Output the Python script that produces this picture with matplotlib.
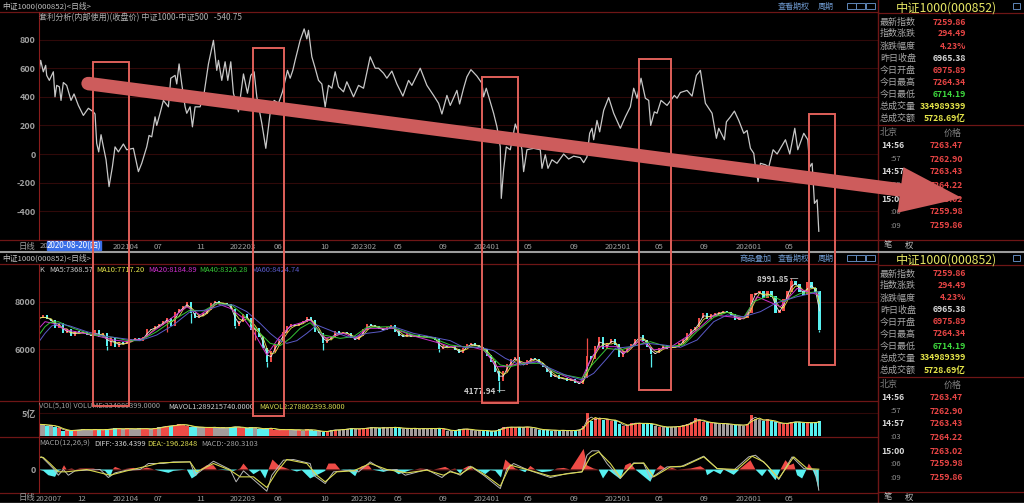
"""
Recreate the CSI 1000 arbitrage / K-line terminal screenshot.
The time axis runs in thirds of a screen column, so all panels share one scale.
"""

import matplotlib
matplotlib.use("Agg")
import matplotlib.pyplot as plt
import matplotlib.patches as mpatches
import numpy as np
import pandas as pd

plt.rcParams["font.family"] = ["Noto Sans CJK SC", "DejaVu Sans"]

# Top panel: CSI1000 minus CSI500 spread
spread_t = [115, 122, 130, 137, 140, 148, 160, 165, 170, 178, 183, 190, 200, 213, 222, 235, 250, 265, 280, 285,
            290, 296, 303, 308, 318, 327, 337, 345, 355, 370, 380, 400, 415, 425, 440, 447, 455, 465, 470, 480,
            490, 505, 512, 525, 530, 537, 545, 555, 560, 570, 577, 585, 600, 612, 625, 640, 650, 655, 665, 675,
            683, 692, 700, 715, 730, 742, 752, 762, 770, 785, 797, 810, 822, 835, 847, 855, 862, 870, 878, 885,
            900, 912, 920, 925, 935, 945, 955, 965, 975, 985, 995, 1005, 1015, 1030, 1040, 1060, 1075, 1090, 1110, 1125,
            1135, 1150, 1160, 1175, 1190, 1208, 1225, 1235, 1260, 1280, 1300, 1315, 1325, 1340, 1350, 1370, 1378, 1390, 1400, 1412,
            1430, 1445, 1450, 1458, 1470, 1480, 1490, 1500, 1503, 1510, 1518, 1530, 1545, 1555, 1565, 1570, 1580, 1600, 1620, 1625,
            1635, 1643, 1655, 1670, 1690, 1705, 1720, 1740, 1750, 1760, 1768, 1775, 1780, 1790, 1798, 1810, 1825, 1840, 1860, 1875,
            1890, 1900, 1910, 1922, 1935, 1945, 1951, 1962, 1970, 1982, 2000, 2022, 2030, 2040, 2060, 2075, 2088, 2100, 2115, 2135,
            2148, 2155, 2172, 2178, 2190, 2202, 2215, 2230, 2240, 2250, 2260, 2265, 2273, 2280, 2295, 2305, 2318, 2330, 2355, 2368,
            2383, 2392, 2410, 2422, 2428, 2435, 2442, 2450, 2455]
spread = [540, 655, 575, 620, 550, 515, 575, 400, 480, 470, 375, 500, 480, 375, 420, 340, 270, 320, 295, 280,
          75, 15, 135, 75, -40, -228, -90, 50, 15, 70, 30, 40, -123, -65, 50, 130, 120, 260, 200, 285,
          375, 330, 530, 550, 490, 630, 490, 330, 285, 330, 190, 330, 330, 425, 630, 795, 585, 655, 515, 645,
          515, 645, 425, 295, 560, 425, 550, 575, 400, 215, 40, 285, 375, 355, 435, 515, 585, 530, 585, 655,
          795, 875, 805, 865, 680, 600, 515, 490, 330, 480, 460, 575, 470, 435, 505, 400, 480, 460, 680, 600,
          600, 565, 530, 580, 490, 405, 515, 480, 600, 480, 410, 355, 280, 410, 340, 445, 350, 460, 540, 590,
          545, 495, 400, 460, 365, 285, 190, 50, -310, -110, 50, 30, 210, 145, 30, -123, 30, 40, 30, -100,
          -5, -100, -40, -65, 0, -35, -15, -25, -60, -20, 145, 180, 100, 235, 155, 305, 395, 285, 180, 260,
          330, 460, 390, 530, 390, 375, 200, 295, 285, 375, 340, 410, 390, 430, 445, 405, 550, 585, 355, 285,
          110, 180, 100, 225, 260, 300, 235, 145, 165, 40, 5, -90, -193, -65, -75, -90, 30, 0, 100, 0,
          180, 30, 145, 100, -90, -65, -345, -320, -540]
spread_ticks = [800, 600, 400, 200, 0, -200, -400]

# Time axis labels, shared by the top panel and the MACD panel
month_t = [147, 246, 378, 474, 603, 729, 834, 972, 1092, 1194, 1329, 1461, 1584, 1722, 1851, 1977, 2112, 2244, 2367]
month_lab = ["202007", "12", "202104", "07", "11", "202203", "06", "10", "202302", "05", "09",
             "202401", "05", "09", "202501", "05", "09", "202601", "05"]

# K-line closes on an even time step
close = [7296, 7394, 7254, 7197, 6874, 7057, 6662, 6831, 6550, 6733,
         6662, 6690, 6606, 6550, 6761, 6493, 6662, 6127, 6493, 6099,
         6268, 6198, 6310, 6381, 6451, 6353, 6493, 6803, 6831, 6944,
         7014, 7155, 7296, 6972, 7535, 7648, 7789, 7958, 7507, 7296,
         7394, 7479, 7648, 7930, 8000, 7930, 7901, 7859, 7676, 6972,
         7155, 7437, 7296, 6803, 6859, 6522, 6028, 5466, 5888, 6170,
         6381, 6690, 6944, 7014, 6972, 7085, 7155, 7324, 7197, 6733,
         6662, 6240, 6409, 6493, 6733, 6634, 6690, 6662, 6451, 6381,
         6550, 6803, 7014, 6972, 6944, 6831, 6803, 6902, 6972, 6733,
         6550, 6522, 6592, 6522, 6550, 6493, 6522, 6493, 6479, 6381,
         5986, 6099, 6071, 6099, 5958, 5817, 6028, 6170, 6212, 6127,
         6071, 5958, 5705, 5466, 5043, 4663, 5043, 5325, 5536, 5649,
         5325, 5325, 5508, 5606, 5536, 5395, 5254, 5043, 4832, 4860,
         4719, 4761, 4663, 4719, 4550, 4522, 4761, 5677, 5564, 6099,
         6493, 5986, 6240, 6409, 6170, 5677, 5888, 6028, 6170, 6409,
         6550, 6353, 6071, 5789, 5817, 6028, 6127, 6014, 6099, 6071,
         6240, 6381, 6634, 6803, 6916, 7296, 7507, 7254, 7437, 7479,
         7535, 7578, 7535, 7437, 7225, 7296, 7296, 7507, 8282, 8352,
         8422, 8141, 8422, 8211, 7507, 7620, 8070, 8422, 8845, 8704,
         8422, 8282, 8803, 8563, 8422, 6803]
low_spike_i = [17, 32, 38, 49, 54, 57, 71, 100, 115, 153, 195]
low_spike_v = [5970, 6730, 7110, 6870, 6380, 5230, 5960, 5870, 4178, 5250, 6714]
high_spike_i = [137, 188]
high_spike_v = [6450, 8992]

ma60_t = [117, 135, 155, 175, 210, 260, 310, 385, 420, 470, 520, 570, 620, 665, 700, 740, 780, 810, 835, 860,
          890, 920, 950, 1000, 1040, 1060, 1100, 1140, 1180, 1240, 1300, 1350, 1390, 1440, 1480, 1515, 1560, 1610, 1650, 1695,
          1745, 1780, 1820, 1845, 1890, 1940, 1990, 2040, 2090, 2140, 2180, 2230, 2280, 2325, 2390, 2455]
ma60 = [6310, 6662, 6972, 7085, 6972, 6733, 6550, 6409, 6353, 6592, 7014, 7578, 7648, 7859, 7859, 7578, 7085, 6662, 6381, 6240,
        6353, 6662, 7014, 6733, 6522, 6493, 6662, 6733, 6944, 6662, 6493, 6353, 6071, 6071, 5930, 5606, 5325, 5466, 5184, 4902,
        4691, 4973, 5606, 6029, 6099, 6240, 6170, 6071, 6381, 7155, 7437, 7366, 7578, 7930, 8211, 8422]
ma40_t = [117, 135, 150, 175, 220, 280, 340, 385, 420, 470, 520, 570, 610, 650, 695, 730, 770, 810, 840, 870,
          900, 930, 970, 1020, 1060, 1100, 1170, 1240, 1300, 1350, 1390, 1440, 1475, 1500, 1530, 1570, 1620, 1670, 1745, 1775,
          1820, 1860, 1910, 1950, 2000, 2050, 2090, 2140, 2180, 2230, 2260, 2310, 2350, 2400, 2455]
ma40 = [6592, 6944, 7113, 7155, 6874, 6592, 6493, 6353, 6353, 6733, 7225, 7648, 7606, 7930, 7859, 7437, 6803, 6240, 6141, 6451,
        6874, 7113, 6592, 6451, 6522, 6916, 6944, 6592, 6451, 6170, 6099, 6071, 5677, 5325, 5254, 5395, 5395, 4973, 4761, 5325,
        6029, 5958, 6170, 6310, 6099, 6170, 6747, 7338, 7550, 7338, 8000, 8282, 8000, 8352, 8422]
ma20_t = [117, 135, 160, 200, 280, 340, 385, 430, 500, 560, 600, 650, 690, 730, 760, 800, 835, 870, 930, 975,
          1030, 1065, 1100, 1180, 1240, 1320, 1350, 1410, 1450, 1490, 1515, 1560, 1610, 1650, 1740, 1765, 1795, 1850, 1870, 1920,
          1960, 2010, 2090, 2140, 2230, 2270, 2340, 2390, 2455]
ma20 = [6874, 7155, 7085, 6803, 6592, 6381, 6310, 6451, 7155, 7789, 7437, 7930, 7718, 7296, 6733, 5747, 6451, 6972, 7225, 6451,
        6662, 6451, 6874, 6874, 6550, 6240, 6099, 6099, 5958, 5254, 5254, 5395, 5466, 5114, 4578, 5395, 6099, 6099, 5817, 6381,
        5958, 6071, 6803, 7437, 7296, 8211, 7789, 8563, 8282]

# Volume in units of 100 million shares, same time step as close
volume = [2.5, 2.4, 2.2, 2.3, 2.0, 1.6, 1.1, 1.2, 1.0, 1.3,
          1.2, 1.4, 1.3, 1.2, 1.4, 1.3, 1.2, 1.5, 1.4, 1.6,
          1.5, 1.4, 1.6, 1.5, 1.4, 1.6, 1.5, 1.5, 1.4, 1.7,
          1.8, 2.0, 2.1, 2.2, 2.3, 2.5, 2.4, 2.2, 2.0, 1.8,
          1.9, 1.8, 1.7, 1.9, 1.8, 1.6, 1.8, 1.7, 1.9, 2.0,
          1.8, 1.7, 1.6, 1.9, 1.7, 1.5, 1.4, 1.7, 1.6, 1.3,
          1.2, 1.4, 1.3, 1.3, 1.2, 1.3, 1.1, 1.4, 1.2, 1.1,
          0.9, 0.8, 1.0, 1.2, 1.3, 1.2, 1.4, 1.5, 1.6, 1.4,
          1.5, 1.6, 1.7, 1.8, 1.7, 1.6, 1.8, 1.7, 1.8, 1.9,
          1.6, 1.5, 1.7, 1.5, 1.6, 1.4, 1.6, 1.5, 1.6, 1.5,
          1.7, 1.4, 1.1, 1.0, 1.2, 1.4, 1.5, 1.4, 1.2, 1.1,
          1.2, 1.1, 1.0, 0.9, 1.1, 1.5, 1.9, 1.8, 1.9, 1.8,
          1.9, 1.8, 2.0, 1.7, 1.5, 1.3, 1.2, 1.3, 1.1, 1.2,
          1.1, 1.2, 1.0, 1.1, 1.2, 1.3, 2.1, 5.0, 3.2, 3.8,
          4.0, 3.5, 3.6, 3.3, 3.4, 2.6, 2.1, 2.3, 2.7, 2.8,
          2.7, 2.6, 2.8, 2.5, 2.2, 2.0, 1.9, 1.8, 2.0, 1.9,
          2.1, 2.3, 2.6, 3.0, 3.8, 3.4, 3.0, 2.9, 2.8, 2.7,
          2.6, 2.7, 2.5, 2.4, 2.3, 2.4, 2.2, 2.6, 4.5, 3.6,
          3.5, 3.3, 3.6, 3.2, 2.9, 2.7, 2.6, 2.8, 3.0, 3.1,
          2.9, 2.8, 2.9, 2.8, 2.9, 3.3]

# MACD histogram and lines
hist_t = [115, 130, 145, 165, 175, 185, 192, 200, 215, 225, 240, 280, 300, 315, 330, 340, 345, 365, 400, 420,
          440, 470, 505, 520, 560, 575, 590, 600, 620, 640, 650, 700, 720, 730, 745, 760, 780, 795, 805, 817,
          835, 860, 870, 890, 905, 930, 975, 985, 1005, 1020, 1045, 1065, 1075, 1085, 1105, 1115, 1150, 1175, 1195, 1230,
          1260, 1300, 1315, 1335, 1350, 1365, 1380, 1390, 1405, 1420, 1440, 1455, 1470, 1485, 1502, 1515, 1545, 1555, 1575, 1590,
          1605, 1625, 1650, 1670, 1690, 1710, 1750, 1760, 1780, 1795, 1808, 1825, 1840, 1860, 1875, 1890, 1905, 1950, 1965, 1980,
          2000, 2015, 2030, 2070, 2100, 2115, 2120, 2140, 2160, 2170, 2200, 2220, 2250, 2265, 2285, 2300, 2325, 2340, 2355, 2368,
          2380, 2390, 2405, 2418, 2425, 2435, 2445, 2455]
macd_hist = [0, -18, -77, -99, -18, 0, 58, 0, 13, 0, 13, 13, -9, -18, -99, 13, 36, 0, 22, 0,
             27, -9, -45, -18, 0, -121, -77, 0, 58, 58, 0, -18, 13, 81, 0, -63, -9, -121, 0, 135,
             58, 13, 0, -27, -9, -121, -18, 81, 81, 0, -18, -90, 0, 45, 58, 0, -32, 0, -63, -9,
             13, 0, 13, 36, 0, 13, -54, 13, 49, 0, -22, -63, -9, -18, -108, 135, 13, 0, -36, 49,
             0, -36, -22, 13, 22, 0, 279, 58, 13, 0, -121, -9, -63, -130, 58, 90, 0, -166, -9, 58,
             0, 22, 0, 13, 45, 0, -77, -18, -63, 0, -72, 13, 126, 0, -90, 0, -144, 0, 126, 58,
             81, -77, -121, 0, 81, 13, -99, -279]
diff_t = [115, 125, 140, 160, 175, 190, 205, 225, 260, 300, 325, 345, 380, 420, 445, 490, 520, 570, 585, 605,
          640, 690, 708, 730, 760, 800, 815, 850, 880, 930, 940, 975, 1000, 1050, 1075, 1110, 1150, 1190, 1215, 1280,
          1325, 1350, 1380, 1410, 1450, 1500, 1520, 1540, 1580, 1650, 1700, 1745, 1760, 1775, 1795, 1820, 1860, 1900, 1930, 1950,
          2000, 2040, 2110, 2150, 2200, 2245, 2265, 2300, 2335, 2375, 2410, 2445, 2455]
macd_diff = [148, 171, 103, 13, -77, 0, -77, -18, -9, 0, -108, -45, -9, 0, 81, 81, 103, 103, -77, -9,
             112, 0, -166, -18, -135, -293, -77, 126, 135, 81, -77, -189, -32, -9, -32, 103, -9, 0, -77, 0,
             -108, -18, -77, 45, -77, -257, 13, 81, 0, -108, -54, -32, 193, 252, 252, 81, -121, 90, 81, -121,
             36, 36, 180, 13, -9, 171, 193, 58, -135, 171, 13, -9, -279]
dea_t = [115, 130, 150, 175, 200, 260, 330, 380, 440, 480, 570, 590, 640, 690, 720, 760, 800, 830, 860, 920,
         950, 975, 1010, 1060, 1110, 1160, 1220, 1280, 1330, 1350, 1380, 1415, 1460, 1500, 1530, 1580, 1650, 1745, 1770, 1795,
         1830, 1860, 1900, 1930, 1960, 2010, 2050, 2110, 2150, 2210, 2255, 2290, 2335, 2380, 2420, 2455]
macd_dea = [171, 162, 81, -31, -31, 0, -77, -18, 45, 90, 103, -31, 81, -9, -99, -99, -243, -31, 135, 81,
            -77, -166, -31, -18, 81, 0, -45, -9, -77, -31, -63, 36, -90, -225, 59, 0, -90, -31, 171, 239,
            81, -108, 81, 90, -99, 36, 45, 171, 13, 0, 180, 103, -121, 171, 13, 4]

# Quote table on the right
quote_labels = ["最新指数", "指数涨跌", "涨跌幅度", "昨日收盘", "今日开盘", "今日最高", "今日最低", "总成交量", "总成交额"]
quote_values = ["7259.86", "294.49", "4.23%", "6965.38", "6975.89", "7264.34", "6714.19", "334989399", "5728.69亿"]
quote_colors = ["#e84545", "#e84545", "#e84545", "#d8d8d8", "#e84545", "#e84545", "#3ed83e", "#e6e64a", "#e6e64a"]
tick_times = ["14:56", ":57", "14:57", ":03", "15:00", ":06", ":09"]
tick_prices = ["7263.47", "7262.90", "7263.43", "7264.22", "7263.02", "7259.98", "7259.86"]

GRID = "#300909"
FRAME = "#6e1616"
AXIS_TEXT = "#a0a0a0"
SALMON = "#cd5c5c"
BOX = "#e0605a"
UP = "#ee4b46"
DOWN = "#58f0f0"
FLAT = "#a39c9c"
W, H = 1024, 503
T_MIN, T_MAX = 115.5, 2631


def make_panel(top, bottom, ymin, ymax):
    """Axes placed by screen rows, with the shared time scale."""
    ax = fig.add_axes([38.5 / W, 1 - bottom / H, (877.5 - 38.5) / W, (bottom - top) / H])
    ax.set_facecolor("black")
    ax.set_xlim(T_MIN, T_MAX)
    ax.set_ylim(ymin, ymax)
    for s in ax.spines.values():
        s.set_visible(False)
    ax.set_xticks([])
    ax.tick_params(length=0, labelcolor=AXIS_TEXT, labelsize=6.5, pad=2)
    return ax


def style_yticks(ax, ticks, labels=None):
    ax.set_yticks(ticks, labels if labels else [str(t) for t in ticks], fontweight="bold")
    ax.grid(axis="y", color=GRID, linewidth=0.8)
    ax.set_axisbelow(True)


def label(x, y, s, color=AXIS_TEXT, size=6.2, ha="left", **kw):
    over.text(x, y, s, color=color, fontsize=size, ha=ha, va="center", **kw)


def draw_side_table(dy):
    """Quote table and tick list; the lower window repeats them shifted by dy."""
    label(946, 8 + dy, "中证1000(000852)", color="#e6e664", size=8.8, ha="center")
    row_y = [22, 33.5, 46, 58, 70, 82, 94.5, 106, 118.5]
    for y, name, val, col in zip(row_y, quote_labels, quote_values, quote_colors):
        label(880, y + dy, name, color="#a8a8a8", size=6.5)
        label(966, y + dy, val, color=col, size=6.2, ha="right", fontweight="bold")
    label(880, 133 + dy, "北京", color="#808080", size=6.5)
    label(962, 133 + dy, "价格", color="#808080", size=6.5, ha="right")
    row_y = [145.5, 159, 172, 185, 199, 212, 225.5]
    for y, t, p in zip(row_y, tick_times, tick_prices):
        if t.startswith(":"):
            label(901, y + dy, t, color="#909090", size=5.5, ha="right")
        else:
            label(881, y + dy, t, color="#d8d8d8", size=6.2, fontweight="bold")
        label(963, y + dy, p, color="#e84545", size=6.2, ha="right", fontweight="bold")
    label(888, 245 + dy, "笔", color="#c0c0c0", size=6, ha="center")
    label(909, 245 + dy, "权", color="#c0c0c0", size=6, ha="center")
    over.plot([877.5, 1024], [12.5 + dy, 12.5 + dy], color=FRAME, lw=0.9)
    over.plot([877.5, 1024], [125 + dy, 125 + dy], color=FRAME, lw=0.9)
    over.plot([877.5, 1024], [240 + dy, 240 + dy], color=FRAME, lw=0.9)
    over.add_patch(mpatches.Rectangle((1013, 3 + dy), 7, 6, fill=False, ec="#5f86b8", lw=0.7))


def draw_window_buttons(dy, names):
    for x, s in names:
        label(x, 6 + dy, s, color="#6f9ad0", size=5.8, ha="center")
    for x in [847, 856, 866]:
        over.add_patch(mpatches.Rectangle((x, 2.5 + dy), 8.5, 6.5, fill=False, ec="#5f86b8", lw=0.7))


fig = plt.figure(figsize=(W / 100, H / 100), dpi=100, facecolor="black")

# Spread panel; the first two month labels sit under the cursor date box
ax1 = make_panel(12, 240, -601, 993)
style_yticks(ax1, spread_ticks)
ax1.plot(spread_t, spread, color="#c8c8c8", lw=0.9)
ax1.set_xticks(month_t[2:], month_lab[2:], fontsize=5.6)

# K-line panel
bar_t = 117 + 12 * np.arange(len(close))
ax2 = make_panel(264, 401, 3803, 9592)
style_yticks(ax2, [8000, 6000])
opens = np.r_[close[0], close[:-1]]
closes = np.array(close)
colors = [UP if c >= o else DOWN for o, c in zip(opens, closes)]
ax2.bar(bar_t, np.abs(closes - opens) + 30, bottom=np.minimum(opens, closes), width=6.5, color=colors, linewidth=0)
ax2.vlines(bar_t[low_spike_i], closes[low_spike_i], low_spike_v,
           colors=[colors[i] for i in low_spike_i], lw=0.9)
ax2.vlines(bar_t[high_spike_i], closes[high_spike_i], high_spike_v,
           colors=[colors[i] for i in high_spike_i], lw=0.9)
ax2.plot(bar_t, pd.Series(closes).rolling(2, min_periods=1).mean(), color="#e8e8e8", lw=0.6)
ax2.plot(bar_t, pd.Series(closes).rolling(3, min_periods=1).mean(), color="#e6e64a", lw=0.6)
ax2.plot(ma20_t, ma20, color="#d030d0", lw=0.7)
ax2.plot(ma40_t, ma40, color="#35c435", lw=0.7)
ax2.plot(ma60_t, ma60, color="#5a5ac8", lw=0.7)

# Volume panel; sessions with a small move read as grey in the reference
ax3 = make_panel(401, 437, -0.33, 7.67)
style_yticks(ax3, [5], ["5亿"])
vol_colors = [FLAT if abs(c - o) < 100 else col for o, c, col in zip(opens, closes, colors)]
ax3.bar(bar_t, volume, width=10, color=vol_colors, linewidth=0)
ax3.plot(bar_t, pd.Series(volume).rolling(2, min_periods=1).mean(), color="#d8d8d8", lw=0.5)
ax3.plot(bar_t, pd.Series(volume).rolling(3, min_periods=1).mean(), color="#e6e64a", lw=0.7)

# MACD panel
ax4 = make_panel(437, 492.7, -313, 439)
style_yticks(ax4, [0])
ax4.fill_between(hist_t, macd_hist, 0, where=np.array(macd_hist) >= 0, interpolate=True, color=UP, linewidth=0)
ax4.fill_between(hist_t, macd_hist, 0, where=np.array(macd_hist) <= 0, interpolate=True, color=DOWN, linewidth=0)
ax4.plot(diff_t, macd_diff, color="#b8b8b8", lw=0.7)
ax4.plot(dea_t, macd_dea, color="#d8d850", lw=0.8)
ax4.set_xticks(month_t, month_lab, fontsize=5.6)

# Everything in screen pixels goes on one transparent overlay
over = fig.add_axes([0, 0, 1, 1], facecolor="none")
over.set_xlim(0, W)
over.set_ylim(H, 0)
over.axis("off")

# frame lines
for y in [11.5, 240, 264, 401, 437, 492.7]:
    over.plot([0, 877.5], [y, y], color=FRAME, lw=0.9)
over.plot([38.5, 38.5], [12, 240], color="#8a1c1c", lw=0.8)
over.plot([38.5, 38.5], [264, 493], color="#8a1c1c", lw=0.8)
over.plot([877.5, 877.5], [0, 503], color=FRAME, lw=1.0)
over.plot([0, 1024], [251.5, 251.5], color="#9c9c9c", lw=1.5)
over.plot([0, 1024], [502.5, 502.5], color="#9c9c9c", lw=1.0)

# window titles and captions
label(2, 6, "中证1000(000852)<日线>", color="#c0c0c0", size=5.6)
label(2, 258, "中证1000(000852)<日线>", color="#c0c0c0", size=5.6)
label(39, 18, "套利分析(内部使用)(收盘价) 中证1000-中证500   -540.75", color="#b0b0b0", size=5.9)
label(35, 246, "日线", color="#a0a0a0", size=6, ha="right")
label(35, 497.5, "日线", color="#a0a0a0", size=6, ha="right")
label(39.5, 246, "20", color=AXIS_TEXT, size=5.6)
over.add_patch(mpatches.Rectangle((47, 241), 54, 9, color="#3a6fe8", zorder=3))
label(74, 246, "2020-08-20(四)", color="white", size=5.8, ha="center", zorder=4)

label(39.5, 270, "K", color="#c8c8c8", size=5.4)
label(49, 270, "MA5:7368.57", color="#c8c8c8", size=5.4)
label(96.5, 270, "MA10:7717.20", color="#e6e64a", size=5.4)
label(148, 270, "MA20:8184.89", color="#d030d0", size=5.4)
label(199.5, 270, "MA40:8326.28", color="#35c435", size=5.4)
label(251, 270, "MA60:8424.74", color="#5a5ac8", size=5.4)
label(39, 407, "VOL(5,10) VOLUME:334989399.0000", color="#a0a0a0", size=5.3)
label(168.5, 407, "MAVOL1:289215740.0000", color="#d0d0d0", size=5.3)
label(259.5, 407, "MAVOL2:278862393.8000", color="#d8d850", size=5.3)
label(39, 443.5, "MACD(12,26,9)", color="#a0a0a0", size=5.4)
label(94, 443.5, "DIFF:-336.4399", color="#d0d0d0", size=5.4)
label(147.5, 443.5, "DEA:-196.2848", color="#d8d850", size=5.4)
label(201.5, 443.5, "MACD:-280.3103", color="#a0a0a0", size=5.4)
label(757, 279, "8991.85 ─", color="#c8c8c8", size=5.8, fontweight="bold")
label(464, 392, "4177.94 ─", color="#c8c8c8", size=5.8, fontweight="bold")

draw_window_buttons(0, [(794, "查看期权"), (826, "周期")])
draw_window_buttons(252, [(755, "商品叠加"), (794, "查看期权"), (826, "周期")])
draw_side_table(0)
draw_side_table(252)

# Hand-drawn annotation boxes and the big trend arrow
boxes = [(93.3, 61.5, 128.7, 406), (252.5, 48, 284, 415.5), (481.7, 77, 518, 403),
         (638.7, 59, 671, 390), (808.7, 114, 835.3, 365)]
for x0, y0, x1, y1 in boxes:
    over.add_patch(mpatches.Rectangle((x0, y0), x1 - x0, y1 - y0, fill=False, ec=BOX, lw=1.4, zorder=6))
over.add_patch(mpatches.Circle((88, 83.5), 6.6, color=SALMON, zorder=7, lw=0))
over.add_patch(mpatches.FancyArrow(88, 83.5, 874, 114.5, width=13.5, head_width=46, head_length=62,
                                   length_includes_head=True, color=SALMON, lw=0, zorder=7))

fig.savefig("out.png", dpi=100, facecolor="black")
